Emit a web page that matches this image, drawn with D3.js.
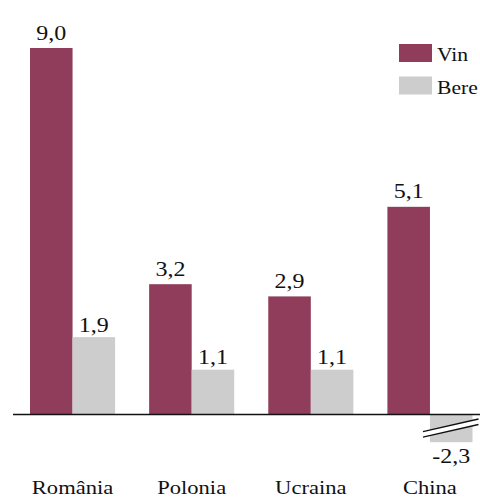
<!DOCTYPE html>
<html>
<head>
<meta charset="utf-8">
<script src="https://cdn.jsdelivr.net/npm/d3@7"></script>
<style>
  body { margin: 0; background: #fff; }
  text { font-family: "Liberation Serif", "Times New Roman", serif; fill: #111; }
</style>
</head>
<body>
<div id="chart"></div>
<script>
// data
var categories = ["România", "Polonia", "Ucraina", "China"];
var seriesNames = ["Vin", "Bere"];
var vin = [9.0, 3.2, 2.9, 5.1];
var bere = [1.9, 1.1, 1.1, -2.3];
var colors = ["#8f3d5b", "#cdcdcd"];

var width = 480, height = 497;
var fmt = function(v) { return d3.format(".1f")(v).replace(".", ",").replace("−", "-"); };

var data = categories.map(function(c, i) {
    return { cat: c, values: [vin[i], bere[i]] };
});

var svg = d3.select("#chart").append("svg")
    .attr("width", width)
    .attr("height", height);

// scales
var x0 = d3.scaleBand()
    .domain(categories)
    .range([30, 472.5])
    .paddingInner(0.2857)
    .paddingOuter(0);

var x1 = d3.scaleBand()
    .domain(seriesNames)
    .range([0, x0.bandwidth()])
    .padding(0);

var y = d3.scaleLinear()
    .domain([0, 9])
    .range([414.5, 48]);

// axis is broken below this value
var yBreak = -0.68;

var groups = svg.selectAll("g.grp")
    .data(data)
    .enter().append("g")
        .attr("class", "grp")
        .attr("transform", function(d) { return "translate(" + x0(d.cat) + ",0)"; });

var bars = groups.selectAll("g.bar")
    .data(function(d) {
        return d.values.map(function(v, j) { return { key: seriesNames[j], j: j, v: v }; });
    })
    .enter().append("g").attr("class", "bar");

bars.append("rect")
    .attr("x", function(d) { return x1(d.key); })
    .attr("width", x1.bandwidth())
    .attr("y", function(d) { return d.v >= 0 ? y(d.v) : y(0); })
    .attr("height", function(d) {
        var v = Math.max(d.v, yBreak);
        return Math.abs(y(v) - y(0));
    })
    .attr("fill", function(d) { return colors[d.j]; });

// value labels
bars.append("text")
    .attr("text-anchor", "middle")
    .style("font-size", "20px")
    .attr("transform", function(d) {
        var cx = x1(d.key) + x1.bandwidth() / 2;
        var ty;
        if (d.v >= 0) ty = y(d.v) - (d.j === 0 ? 8.5 : 5.5);
        else ty = y(yBreak) + 21;
        return "translate(" + cx + "," + ty + ") scale(1.2,1)";
    })
    .text(function(d) { return fmt(d.v); });

// break marks on truncated bars
bars.filter(function(d) { return d.v < yBreak; })
    .each(function(d) {
        var g = d3.select(this);
        var bx = x1(d.key), bw = x1.bandwidth();
        var x0b = bx - 7, x1b = bx + bw + 6;
        var ya = 431.7, yb = 419, gap = 5.5;
        g.append("path")
            .attr("d", "M" + x0b + "," + ya + "L" + x1b + "," + yb +
                       "L" + x1b + "," + (yb + gap) + "L" + x0b + "," + (ya + gap) + "Z")
            .attr("fill", "#fff");
        [0, gap].forEach(function(o) {
            g.append("line")
                .attr("x1", x0b).attr("y1", ya + o)
                .attr("x2", x1b).attr("y2", yb + o)
                .attr("stroke", "#111")
                .attr("stroke-width", 1.3);
        });
    });

// zero line
svg.append("line")
    .attr("x1", 13).attr("x2", width)
    .attr("y1", y(0)).attr("y2", y(0))
    .attr("stroke", "#111")
    .attr("stroke-width", 1.3);

// category labels
svg.selectAll("text.cat")
    .data(categories)
    .enter().append("text")
        .attr("class", "cat")
        .attr("text-anchor", "middle")
        .style("font-size", "18.5px")
        .attr("transform", function(d) {
            return "translate(" + (x0(d) + x0.bandwidth() / 2) + ",494) scale(1.22,1)";
        })
        .text(function(d) { return d; });

// legend
var legend = svg.selectAll("g.leg")
    .data(seriesNames)
    .enter().append("g")
        .attr("class", "leg")
        .attr("transform", function(d, i) { return "translate(399," + (44 + i * 32.5) + ")"; });

legend.append("rect")
    .attr("width", 33)
    .attr("height", 18)
    .attr("fill", function(d, i) { return colors[i]; });

legend.append("text")
    .attr("transform", "translate(38,17) scale(1.2,1)")
    .style("font-size", "18px")
    .text(function(d) { return d; });
</script>
</body>
</html>
